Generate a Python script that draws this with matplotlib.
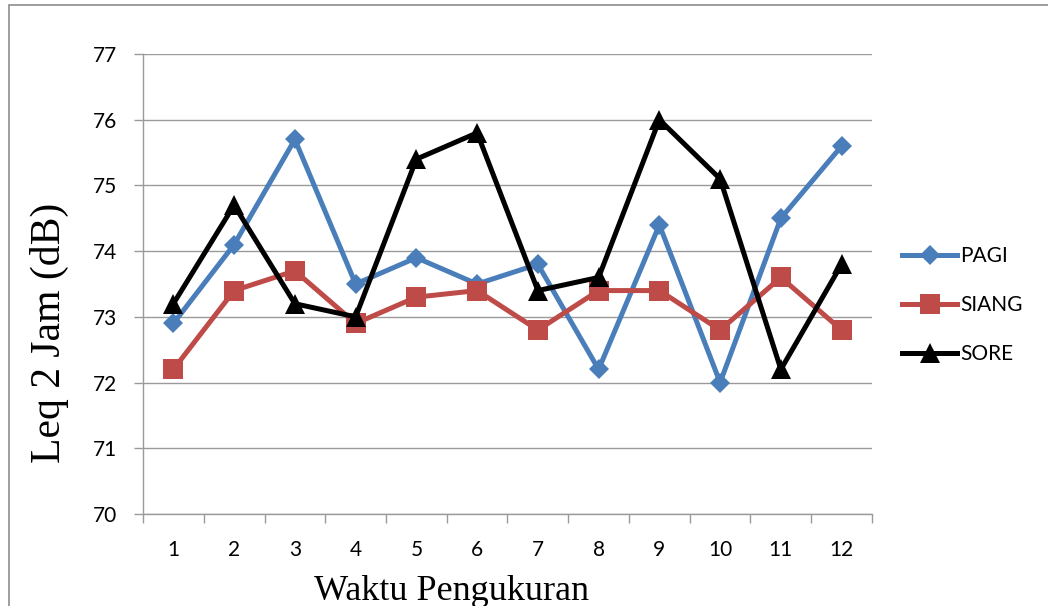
import matplotlib
matplotlib.use("Agg")
import matplotlib.pyplot as plt
from matplotlib.patches import Rectangle

# Measurement sessions 1..12
waktu = [1, 2, 3, 4, 5, 6, 7, 8, 9, 10, 11, 12]
pagi = [72.9, 74.1, 75.7, 73.5, 73.9, 73.5, 73.8, 72.2, 74.4, 72.0, 74.5, 75.6]
siang = [72.2, 73.4, 73.7, 72.9, 73.3, 73.4, 72.8, 73.4, 73.4, 72.8, 73.6, 72.8]
sore = [73.2, 74.7, 73.2, 73.0, 75.4, 75.8, 73.4, 73.6, 76.0, 75.1, 72.2, 73.8]
y_ticks = [70, 71, 72, 73, 74, 75, 76, 77]

W, H = 1048, 606
fig = plt.figure(figsize=(W / 100, H / 100), dpi=100)
fig.patch.set_facecolor("white")

# Outer chart frame (extends past right/bottom edges)
frame = Rectangle((9 / W, -0.1), 1.2, 1 - 5 / H + 0.1, transform=fig.transFigure,
                  fill=False, edgecolor="#8c8c8c", linewidth=1.2)
fig.add_artist(frame)

ax = fig.add_axes([143 / W, 1 - 514 / H, (872 - 143) / W, (514 - 54) / H])

grid_col = "#9a9a9a"
tick_font = "Lato"

series = [
    ("PAGI", pagi, "#4A7EBB", "D", 10.5),
    ("SIANG", siang, "#BE4B48", "s", 14),
    ("SORE", sore, "#000000", "^", 15),
]
for name, vals, col, mk, ms in series:
    ax.plot(waktu, vals, color=col, linewidth=3.6, marker=mk, markersize=ms,
            markeredgewidth=0, label=name, solid_joinstyle="miter")

ax.set_xlim(0.5, 12.5)
ax.set_ylim(70, 77)
ax.set_yticks(y_ticks)
ax.set_xticks(waktu)
ax.set_xticks([i + 0.5 for i in range(0, 13)], minor=True)

for s in ["top", "right"]:
    ax.spines[s].set_visible(False)
for s in ["left", "bottom"]:
    ax.spines[s].set_color(grid_col)
    ax.spines[s].set_linewidth(1.0)

ax.yaxis.grid(True, color=grid_col, linewidth=1.0)
ax.set_axisbelow(True)

ax.tick_params(axis="x", which="major", length=0, pad=19, labelsize=15)
ax.tick_params(axis="x", which="minor", length=6.5, color=grid_col, width=1.0)
ax.tick_params(axis="y", length=6.5, color=grid_col, width=1.0, pad=12, labelsize=15)
for lab in ax.get_xticklabels() + ax.get_yticklabels():
    lab.set_fontfamily(tick_font)

fig.text(451 / W, 1 - 600 / H, "Waktu Pengukuran", fontfamily="Liberation Serif",
         fontsize=26, ha="center", va="baseline")
fig.text(49 / W, 1 - 333 / H, "Leq 2 Jam (dB)", fontfamily="Liberation Serif",
         fontsize=30, ha="center", va="center", rotation=90)

leg = ax.legend(loc="center left", bbox_to_anchor=((902 - 143) / 729, (514 - 305) / 460),
                frameon=False, borderpad=0, borderaxespad=0,
                prop={"family": tick_font, "size": 15}, handlelength=2.65,
                handletextpad=0.15, labelspacing=1.4, markerscale=1.0)

fig.savefig("out.png", dpi=100, facecolor="white")
